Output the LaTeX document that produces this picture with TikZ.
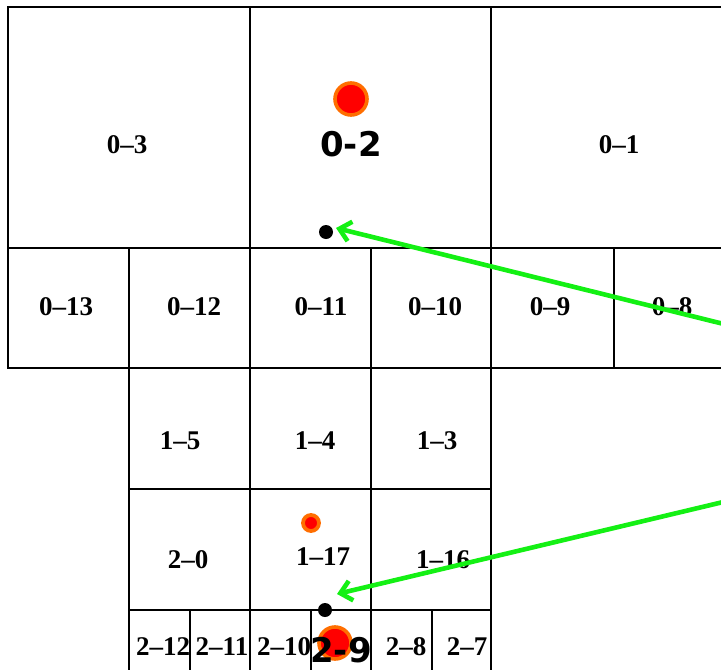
\documentclass[tikz,border=0pt]{standalone}
\usepackage{fontspec}
\setmainfont{Liberation Serif}
\newfontfamily\tagfont{DejaVu Sans}
\usetikzlibrary{arrows.meta,calc,positioning}
\definecolor{linkgreen}{RGB}{20,240,20}
\definecolor{ringorange}{RGB}{255,110,0}
\tikzset{
  cell/.style={draw=black, line width=1.5pt},
  zone/.style={font=\fontsize{27}{30}\selectfont\bfseries, inner sep=0pt},
  tag/.style={font=\fontsize{34}{38}\tagfont\bfseries, inner sep=0pt},
  peer/.style={circle, fill=red, draw=ringorange, inner sep=0pt, line width=3.6pt, minimum size=32pt},
  smallpeer/.style={peer, minimum size=16pt, line width=3.8pt},
  hop/.style={circle, fill=black, inner sep=0pt, minimum size=14pt},
  link/.style={linkgreen, line width=4.6pt, -{Straight Barb[length=11pt,width=20pt]}}
}
\begin{document}
\begin{tikzpicture}[x=1pt,y=-1pt]
          \useasboundingbox (0,0) rectangle (721,670);
          \clip (0,0) rectangle (721,670);
          % big zones
          \draw[cell] (8,7) rectangle (250,248);
          \draw[cell] (250,7) rectangle (491,248);
          \draw[cell] (491,7) rectangle (735,248);
          % second row
          \foreach \xa/\xb in {8/129,129/250,250/371,371/491,491/614,614/735}
            \draw[cell] (\xa,248) rectangle (\xb,368);
          % middle rows
          \foreach \xa/\xb in {129/250,250/371,371/491}{
            \draw[cell] (\xa,368) rectangle (\xb,489);
            \draw[cell] (\xa,489) rectangle (\xb,610);
          }
          % bottom row
          \foreach \xa/\xb in {129/190,190/250,250/311,311/371,371/432,432/491}
            \draw[cell] (\xa,610) rectangle (\xb,690);
          % zone labels
          \node[zone] (z03) at (127,145) {0--3};
          \node[zone] (z01) at (619,145) {0--1};
          \node[zone] (z013) at (66,307) {0--13};
          \node[zone] (z012) at (194,307) {0--12};
          \node[zone] (z011) at (321,307) {0--11};
          \node[zone] (z010) at (435,307) {0--10};
          \node[zone] (z09) at (550,307) {0--9};
          \node[zone] (z08) at (672,307) {0--8};
          \node[zone] (z15) at (180,441) {1--5};
          \node[zone] (z14) at (315,441) {1--4};
          \node[zone] (z13) at (437,441) {1--3};
          \node[zone] (z20) at (188,560) {2--0};
          \node[zone] (z117) at (323,557) {1--17};
          \node[zone] (z116) at (443,560) {1--16};
          \node[zone] (z212) at (163,647) {2--12};
          \node[zone] (z211) at (222,647) {2--11};
          \node[zone] (z210) at (284,647) {2--10};
          \node[zone] (z28) at (406,647) {2--8};
          \node[zone] (z27) at (467,647) {2--7};
          % peers and hops
          \node[peer] (peerA) at (351,99) {};
          \node[tag] (tagA) at (351,144) {0-2};
          \node[hop] (hopA) at (326,232) {};
          \node[smallpeer] (peerB) at (311,523) {};
          \node[hop] (hopB) at (325,610) {};
          \node[peer] (peerC) at (335,643) {};
          \node[tag] (tagC) at (341,650) {2-9};
          % green links
          \coordinate (srcA) at (740,328);
          \coordinate (srcB) at (740,498);
          \coordinate (tipA) at ($(hopA)+(10,-4)$);
          \coordinate (tipB) at ($(hopB)+(12,-16)$);
          \draw[link] (srcA) -- (tipA);
          \draw[link] (srcB) -- (tipB);
        \end{tikzpicture}
\end{document}
